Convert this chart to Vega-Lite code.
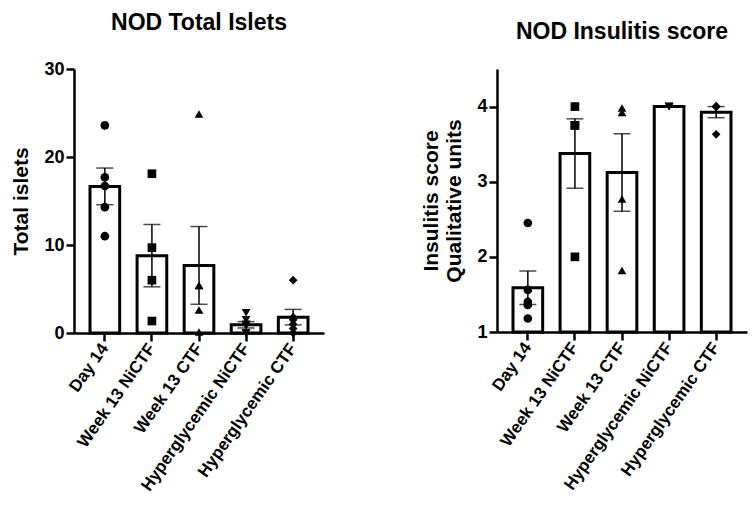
{
  "$schema": "https://vega.github.io/schema/vega-lite/v6.json",
  "background": "white",
  "padding": {"left": 10, "top": 12, "right": 5, "bottom": 5},
  "datasets": {
    "islets": [
      {"group": "Day 14", "value": 23.6},
      {"group": "Day 14", "value": 17.7},
      {"group": "Day 14", "value": 16.7},
      {"group": "Day 14", "value": 14.3},
      {"group": "Day 14", "value": 11.0},
      {"group": "Week 13 NiCTF", "value": 18.1},
      {"group": "Week 13 NiCTF", "value": 9.7},
      {"group": "Week 13 NiCTF", "value": 6.0},
      {"group": "Week 13 NiCTF", "value": 1.36},
      {"group": "Week 13 CTF", "value": 24.9},
      {"group": "Week 13 CTF", "value": 5.4},
      {"group": "Week 13 CTF", "value": 5.4},
      {"group": "Week 13 CTF", "value": 2.6},
      {"group": "Week 13 CTF", "value": 0.1},
      {"group": "Hyperglycemic NiCTF", "value": 1.5},
      {"group": "Hyperglycemic NiCTF", "value": 2.3},
      {"group": "Hyperglycemic NiCTF", "value": 1.0},
      {"group": "Hyperglycemic NiCTF", "value": 0.8},
      {"group": "Hyperglycemic NiCTF", "value": 0.0},
      {"group": "Hyperglycemic NiCTF", "value": 0.0},
      {"group": "Hyperglycemic CTF", "value": 6.0},
      {"group": "Hyperglycemic CTF", "value": 1.8},
      {"group": "Hyperglycemic CTF", "value": 1.5},
      {"group": "Hyperglycemic CTF", "value": 1.0},
      {"group": "Hyperglycemic CTF", "value": 0.5},
      {"group": "Hyperglycemic CTF", "value": 0.0}
    ],
    "insulitis": [
      {"group": "Day 14", "value": 2.45},
      {"group": "Day 14", "value": 1.56},
      {"group": "Day 14", "value": 1.4},
      {"group": "Day 14", "value": 1.36},
      {"group": "Day 14", "value": 1.18},
      {"group": "Week 13 NiCTF", "value": 4.0},
      {"group": "Week 13 NiCTF", "value": 3.75},
      {"group": "Week 13 NiCTF", "value": 3.75},
      {"group": "Week 13 NiCTF", "value": 2.0},
      {"group": "Week 13 CTF", "value": 3.92},
      {"group": "Week 13 CTF", "value": 3.98},
      {"group": "Week 13 CTF", "value": 2.77},
      {"group": "Week 13 CTF", "value": 1.82},
      {"group": "Hyperglycemic NiCTF", "value": 4.0},
      {"group": "Hyperglycemic NiCTF", "value": 4.0},
      {"group": "Hyperglycemic NiCTF", "value": 4.0},
      {"group": "Hyperglycemic CTF", "value": 4.0},
      {"group": "Hyperglycemic CTF", "value": 4.0},
      {"group": "Hyperglycemic CTF", "value": 4.0},
      {"group": "Hyperglycemic CTF", "value": 4.0},
      {"group": "Hyperglycemic CTF", "value": 3.63}
    ]
  },
  "config": {
    "font": "Liberation Sans",
    "view": {"stroke": null},
    "axis": {
      "domainColor": "black",
      "domainWidth": 2.5,
      "tickColor": "black",
      "tickWidth": 2.5,
      "tickSize": 8,
      "grid": false,
      "labelColor": "black",
      "labelFont": "Liberation Sans",
      "labelFontWeight": "bold",
      "labelFontSize": 18,
      "titleColor": "black",
      "titleFont": "Liberation Sans",
      "titleFontWeight": "bold",
      "titleFontSize": 21
    },
    "title": {"font": "Liberation Sans", "fontSize": 23, "fontWeight": "bold", "color": "black"}
  },
  "spacing": 96,
  "hconcat": [
    {
      "width": 250,
      "height": 264,
      "data": {"name": "islets"},
      "title": {"text": "NOD Total Islets", "offset": 25},
      "encoding": {
        "x": {
          "field": "group",
          "type": "nominal",
          "sort": ["Day 14", "Week 13 NiCTF", "Week 13 CTF", "Hyperglycemic NiCTF", "Hyperglycemic CTF"],
          "scale": {"paddingInner": 0.37, "paddingOuter": 0.34},
          "axis": {"title": null, "labelAngle": -55, "labelFontSize": 17, "labelPadding": 4}
        }
      },
      "layer": [
        {
          "mark": {"type": "bar", "fill": "white", "stroke": "black", "strokeWidth": 3},
          "encoding": {
            "y": {"aggregate": "mean", "field": "value", "type": "quantitative",
              "scale": {"domain": [0, 30], "nice": false},
              "axis": {"title": "Total islets", "values": [0, 10, 20, 30], "titlePadding": 12}}
          }
        },
        {
          "mark": {"type": "errorbar", "extent": "stderr",
            "ticks": {"size": 17, "color": "black", "thickness": 1.5},
            "rule": {"color": "black", "strokeWidth": 1.5}},
          "encoding": {"y": {"field": "value", "type": "quantitative",
            "axis": {"title": "Total islets", "values": [0, 10, 20, 30], "titlePadding": 12}}}
        },
        {
          "mark": {"type": "point", "filled": true, "color": "black", "size": 75, "opacity": 1},
          "encoding": {
            "y": {"field": "value", "type": "quantitative",
              "axis": {"title": "Total islets", "values": [0, 10, 20, 30], "titlePadding": 12}},
            "shape": {"field": "group", "type": "nominal",
              "scale": {"domain": ["Day 14", "Week 13 NiCTF", "Week 13 CTF", "Hyperglycemic NiCTF", "Hyperglycemic CTF"],
                "range": ["circle", "square", "triangle-up", "triangle-down", "diamond"]},
              "legend": null}
          }
        }
      ]
    },
    {
      "width": 250,
      "height": 263,
      "data": {"name": "insulitis"},
      "title": {"text": "NOD Insulitis score", "offset": 25},
      "encoding": {
        "x": {
          "field": "group",
          "type": "nominal",
          "sort": ["Day 14", "Week 13 NiCTF", "Week 13 CTF", "Hyperglycemic NiCTF", "Hyperglycemic CTF"],
          "scale": {"paddingInner": 0.37, "paddingOuter": 0.34},
          "axis": {"title": null, "labelAngle": -55, "labelFontSize": 17, "labelPadding": 4}
        }
      },
      "layer": [
        {
          "mark": {"type": "bar", "fill": "white", "stroke": "black", "strokeWidth": 3},
          "encoding": {
            "y": {"aggregate": "mean", "field": "value", "type": "quantitative",
              "scale": {"domain": [1, 4.5], "nice": false, "zero": false},
              "axis": {"title": ["Insulitis score", "Qualitative units"], "values": [1, 2, 3, 4], "titlePadding": 12}}
          }
        },
        {
          "mark": {"type": "errorbar", "extent": "stderr",
            "ticks": {"size": 17, "color": "black", "thickness": 1.5},
            "rule": {"color": "black", "strokeWidth": 1.5}},
          "encoding": {"y": {"field": "value", "type": "quantitative",
            "axis": {"title": ["Insulitis score", "Qualitative units"], "values": [1, 2, 3, 4], "titlePadding": 12}}}
        },
        {
          "mark": {"type": "point", "filled": true, "color": "black", "size": 75, "opacity": 1},
          "encoding": {
            "y": {"field": "value", "type": "quantitative",
              "axis": {"title": ["Insulitis score", "Qualitative units"], "values": [1, 2, 3, 4], "titlePadding": 12}},
            "shape": {"field": "group", "type": "nominal",
              "scale": {"domain": ["Day 14", "Week 13 NiCTF", "Week 13 CTF", "Hyperglycemic NiCTF", "Hyperglycemic CTF"],
                "range": ["circle", "square", "triangle-up", "triangle-down", "diamond"]},
              "legend": null}
          }
        }
      ]
    }
  ]
}
